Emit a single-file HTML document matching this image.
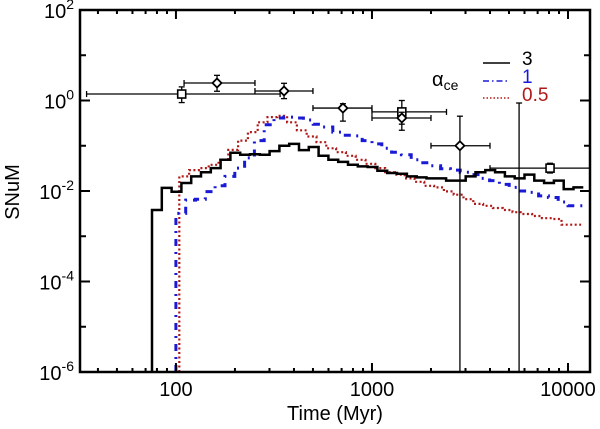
<!DOCTYPE html>
<html><head><meta charset="utf-8"><style>
html,body{margin:0;padding:0;background:#fff;}
svg{display:block;font-family:"Liberation Sans",Arial,sans-serif;}
</style></head><body>
<svg id="chart" width="600" height="429" viewBox="0 0 600 429" xmlns="http://www.w3.org/2000/svg">
<g id="marks"></g>
<g id="axes"></g>
<g>
  <text x="432" y="86" font-size="20">α<tspan font-size="14" dy="4">ce</tspan></text>
  <line x1="483" y1="63" x2="510" y2="63" stroke="#000" stroke-width="1.5"/>
  <text x="522" y="65" font-size="19">3</text>
  <line x1="483" y1="81" x2="510" y2="81" stroke="#1a1ad6" stroke-width="1.5" stroke-dasharray="6,3,1.5,3"/>
  <text x="522" y="83" font-size="19" fill="#1a1ad6">1</text>
  <line x1="483" y1="98" x2="510" y2="98" stroke="#b01818" stroke-width="1.5" stroke-dasharray="1.5,2"/>
  <text x="522" y="101" font-size="19" fill="#b01818">0.5</text>
</g>
<text x="335" y="420" font-size="20" text-anchor="middle">Time (Myr)</text>
<text transform="translate(19,192) rotate(-90)" font-size="20" text-anchor="middle">SNuM</text>
</svg>
<script>
// ---- data ----
const binDex = 0.05;
const blackStartT = 75.5;
const blackVals = [0.0038,0.0117,0.0096,0.015,0.021,0.026,0.032,0.049,0.070,0.063,0.065,0.063,0.076,0.10,0.11,0.08,0.094,0.06,0.049,0.044,0.038,0.035,0.034,0.028,0.025,0.024,0.021,0.020,0.019,0.019,0.017,0.017,0.021,0.026,0.029,0.026,0.021,0.019,0.023,0.017,0.015,0.017,0.011,0.012];
const blueStartT = 100;
const blueVals = [0.0032,0.0063,0.0066,0.0097,0.013,0.021,0.032,0.054,0.13,0.29,0.41,0.43,0.41,0.37,0.30,0.26,0.20,0.17,0.165,0.13,0.11,0.088,0.072,0.063,0.049,0.042,0.036,0.031,0.029,0.026,0.023,0.019,0.017,0.014,0.012,0.010,0.0093,0.0078,0.0072,0.0057,0.0047,0.0047];
const redStartT = 104;
const redVals = [0.021,0.029,0.032,0.038,0.049,0.081,0.13,0.20,0.33,0.43,0.46,0.33,0.22,0.16,0.12,0.088,0.072,0.06,0.049,0.04,0.032,0.026,0.023,0.019,0.016,0.013,0.012,0.0098,0.0083,0.0066,0.0052,0.0047,0.0042,0.0038,0.0034,0.0031,0.0028,0.0025,0.0024,0.0018,0.0018];
// observations
const obsT    = [107, 162, 356, 711, 1420, 1420, 2810, 8100];
const obsV    = [1.39, 2.44, 1.62, 0.68, 0.56, 0.41, 0.10, 0.032];
const obsTLo  = [35, 110, 253, 500, 1000, 1000, 2000, 4000];
const obsTHi  = [340, 253, 500, 1000, 2400, 2000, 4000, 13000];
const obsVLo  = [0.9, 1.6, 1.1, 0.35, 0.22, 0.3, 1e-7, 0.025];
const obsVHi  = [2.0, 3.6, 2.4, 0.85, 1.0, 0.55, 0.45, 0.041];
const obsMark = ['square','diamond','diamond','diamond','square','diamond','diamond','square'];
const extraT = [5630]; const extraVHi = [0.88];
const xTicks = [100, 1000, 10000];
const xTickLabels = ['100','1000','10000'];
const yTickExp = [2, 0, -2, -4, -6];
// ---- scales ----
const X0=80, X1=590, Y0=10, Y1=372;
const xmin=Math.log10(32.4), xmax=Math.log10(12950);
const ymin=-6, ymax=2;
function sx(t){return X0+(Math.log10(t)-xmin)/(xmax-xmin)*(X1-X0);}
function sy(v){let l=Math.log10(v); if(l<ymin) l=ymin; return Y1-(l-ymin)/(ymax-ymin)*(Y1-Y0);}
const NS='http://www.w3.org/2000/svg';
const marks=document.getElementById('marks'), axes=document.getElementById('axes');
function mk(tag,attrs,parent){const e=document.createElementNS(NS,tag);for(const k in attrs)e.setAttribute(k,attrs[k]);parent.appendChild(e);return e;}
function stepPath(startT,vals){
  let lt=Math.log10(startT);
  let d='M'+sx(startT).toFixed(1)+','+Y1;
  for(let i=0;i<vals.length;i++){
    const xa=sx(Math.pow(10,lt+i*binDex)), xb=Math.min(X1,sx(Math.pow(10,lt+(i+1)*binDex)));
    d+=' L'+xa.toFixed(1)+','+sy(vals[i]).toFixed(1)+' L'+xb.toFixed(1)+','+sy(vals[i]).toFixed(1);
  }
  return d;
}
const clip=mk('clipPath',{id:'pc'},marks); mk('rect',{x:X0,y:Y0,width:X1-X0,height:Y1-Y0},clip);
const red=mk('path',{d:stepPath(redStartT,redVals),fill:'none',stroke:'#b01818','stroke-width':2.2,'stroke-dasharray':'2,2.5','clip-path':'url(#pc)'},marks);


const blue=mk('path',{d:stepPath(blueStartT,blueVals),fill:'none',stroke:'#1a1ad6','stroke-width':3,'stroke-dasharray':'7,6,2,6','clip-path':'url(#pc)'},marks);


const black=mk('path',{d:stepPath(blackStartT,blackVals),fill:'none',stroke:'#000','stroke-width':2.5,'clip-path':'url(#pc)'},marks);


for(let i=0;i<obsT.length;i++){
  const g=mk('g',{stroke:'#000','stroke-width':1.3,fill:'none'},marks);
  
  
  const x=sx(obsT[i]), y=sy(obsV[i]);
  const xl=Math.max(X0,sx(obsTLo[i])), xh=Math.min(X1,sx(obsTHi[i]));
  const yl=sy(obsVLo[i]), yh=sy(obsVHi[i]);
  mk('line',{x1:xl,y1:y,x2:xh,y2:y},g);
  if(xl>X0) mk('line',{x1:xl,y1:y-3,x2:xl,y2:y+3},g);
  if(xh<X1) mk('line',{x1:xh,y1:y-3,x2:xh,y2:y+3},g);
  mk('line',{x1:x,y1:yl,x2:x,y2:yh},g);
  mk('line',{x1:x-3,y1:yh,x2:x+3,y2:yh},g);
  if(yl<Y1) mk('line',{x1:x-3,y1:yl,x2:x+3,y2:yl},g);
  if(obsMark[i]==='square') mk('rect',{x:x-4,y:y-4,width:8,height:8,fill:'#fff','stroke-width':1.6},g);
  else mk('path',{d:`M${x},${y-4.5} L${x+4.5},${y} L${x},${y+4.5} L${x-4.5},${y} Z`,fill:'#fff','stroke-width':1.8},g);
}
for(let i=0;i<extraT.length;i++){
  const x=sx(extraT[i]), yh=sy(extraVHi[i]);
  const e=mk('g',{stroke:'#000','stroke-width':1.3},marks);
  
  
  mk('line',{x1:x,y1:yh,x2:x,y2:Y1},e);
  mk('line',{x1:x-3,y1:yh,x2:x+3,y2:yh},e);
}
const frame=mk('rect',{x:X0,y:Y0,width:X1-X0,height:Y1-Y0,fill:'none',stroke:'#000','stroke-width':2.5},axes);


for(let dec=1;dec<=4;dec++){
  for(let m=1;m<=9;m++){
    const t=m*Math.pow(10,dec); if(t<32.4||t>12950) continue;
    const x=sx(t), len=(m===1)?9:4;
    mk('line',{x1:x,y1:Y1,x2:x,y2:Y1-len,stroke:'#000','stroke-width':2},axes);
    mk('line',{x1:x,y1:Y0,x2:x,y2:Y0+len,stroke:'#000','stroke-width':2},axes);
  }
}
for(let i=0;i<xTicks.length;i++){
  const tl=mk('text',{x:sx(xTicks[i]),y:396,'font-size':20,'text-anchor':'middle'},axes);
  tl.textContent=xTickLabels[i];
  
  
}
for(let e=ymin;e<=ymax;e++){
  const y=sy(Math.pow(10,e)), len=(e%2===0)?10:6;
  mk('line',{x1:X0,y1:y,x2:X0+len,y2:y,stroke:'#000','stroke-width':2},axes);
  mk('line',{x1:X1,y1:y,x2:X1-len,y2:y,stroke:'#000','stroke-width':2},axes);
}
for(let i=0;i<yTickExp.length;i++){
  const y=sy(Math.pow(10,yTickExp[i]));
  const tl=mk('text',{x:74,y:y+8,'font-size':20,'text-anchor':'end'},axes);
  
  
  const a=mk('tspan',{},tl); a.textContent='10';
  const b=mk('tspan',{dy:-9,'font-size':14}, tl); b.textContent=String(yTickExp[i]);
}
</script>
</body></html>
